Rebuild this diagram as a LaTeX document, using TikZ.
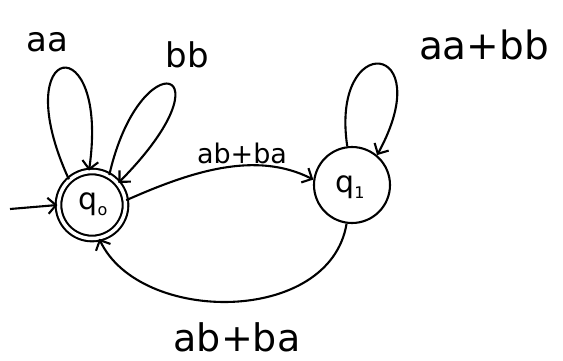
\documentclass[tikz,border=0pt]{standalone}
\usepackage{fontspec}
\setmainfont{DejaVu Sans}
\usetikzlibrary{arrows.meta}
\newcommand{\subsc}[1]{\raisebox{-6pt}{\fontsize{16}{16}\selectfont #1}}
\begin{document}
\begin{tikzpicture}[x=1pt,y=-1pt,line width=2.1pt,
  tip/.style={-{Straight Barb[length=8pt,width=16pt,line width=2.1pt]}},
  state/.style={circle,draw,inner sep=0pt},
  lab/.style={inner sep=0pt,font=\fontsize{#1}{#1}\selectfont},
  lab/.default=28]
\useasboundingbox (0,0) rectangle (563,360);
\node[state,minimum size=67pt,double,double distance=3.5pt] (q0) at (92,205) {};
\node[lab=30] (l0) at (93,204) {q\subsc{o}};
\node[state,minimum size=76pt] (q1) at (352,185) {};
\node[lab=30] (l1) at (350,187) {q\subsc{1}};
\coordinate (s) at (10,209);
\draw[tip] (s) -- (q0.west);
\draw[tip] (q0.132) .. controls (5,40) and (110,25) .. (q0.95);
\draw[tip] (q0.60) .. controls (140,40) and (235,65) .. (q0.40);
\draw[tip] (q1.97) .. controls (330,30) and (440,40) .. (q1.50);
\draw[tip] (q0.8) .. controls (190,172) and (255,150) .. (q1.172);
\draw[tip] (q1.262) .. controls (330,325) and (140,325) .. (q0.282);
\node[lab=34] (a1) at (47,42) {aa};
\node[lab=34] (a2) at (187,55) {bb};
\node[lab=27] (a3) at (242,153) {ab+ba};
\node[lab=39] (a4) at (484,45) {aa+bb};
\node[lab=38] (a5) at (237,337) {ab+ba};
\end{tikzpicture}
\end{document}
